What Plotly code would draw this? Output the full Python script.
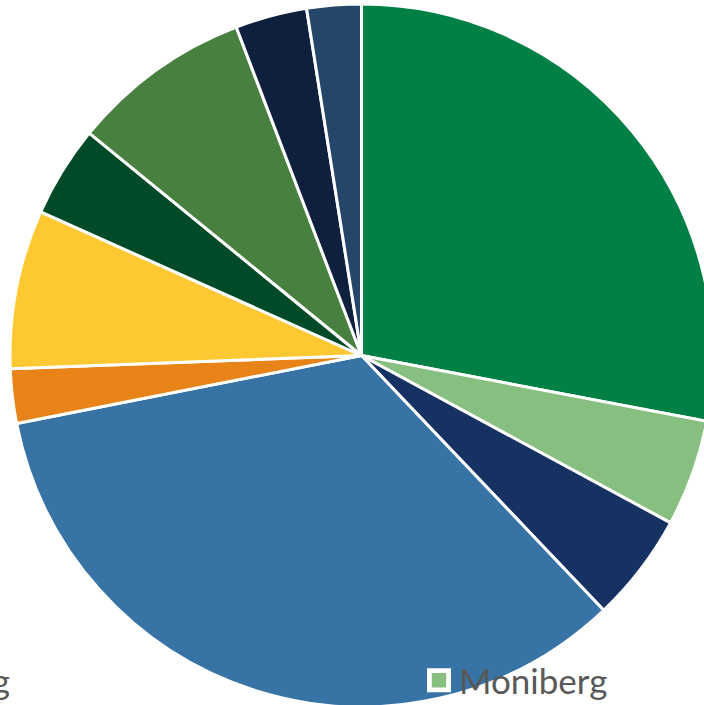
import plotly.graph_objects as go

# Share of each site (percent), clockwise from 12 o'clock
labels = ["Hamburg", "Moniberg", "Altenberg", "Rosenburg", "Falkenberg",
          "Lindenberg", "Eichenburg", "Sonnenberg", "Wolfsburg", "Adlerberg"]
values = [28.0, 4.9, 5.0, 34.0, 2.5, 7.3, 4.2, 8.3, 3.3, 2.5]
colors = ["#018045", "#86BF7F", "#153263", "#3873A6", "#E88417",
          "#FEC832", "#004A28", "#488040", "#0F1F3E", "#244668"]

# Geometry of the page (px)
PAGE_W, PAGE_H = 2600, 710
M_L, M_T, PLOT = 10, 4, 703
ENTRY_W = 546

fig = go.Figure(
    go.Pie(
        labels=labels,
        values=values,
        sort=False,
        direction="clockwise",
        rotation=0,
        textinfo="none",
        hoverinfo="label+percent",
        marker=dict(colors=colors, line=dict(color="white", width=3)),
    )
)

first_item_left = 419 - ENTRY_W - 45
fig.update_layout(
    width=PAGE_W,
    height=PAGE_H,
    margin=dict(l=M_L, t=M_T, r=PAGE_W - M_L - PLOT, b=PAGE_H - M_T - PLOT,
                autoexpand=False),
    paper_bgcolor="white",
    plot_bgcolor="white",
    showlegend=True,
    legend=dict(
        orientation="h",
        xanchor="left",
        yanchor="top",
        x=(first_item_left - M_L) / PLOT,
        y=(M_T + PLOT - 651) / PLOT,
        entrywidth=ENTRY_W,
        bgcolor="rgba(0,0,0,0)",
        font=dict(family="Lato", size=35, color="#595959"),
    ),
)

fig.write_html(
    "out.html",
    post_script=(
        "document.documentElement.style.overflow='hidden';"
        "document.body.style.overflow='hidden';"
        "document.body.style.margin='0';"
        # larger legend swatches
        "document.querySelectorAll('path.legendpie').forEach(function(p){"
        "p.setAttribute('transform','translate(20,0) scale(1.6)');});"
    ),
)
